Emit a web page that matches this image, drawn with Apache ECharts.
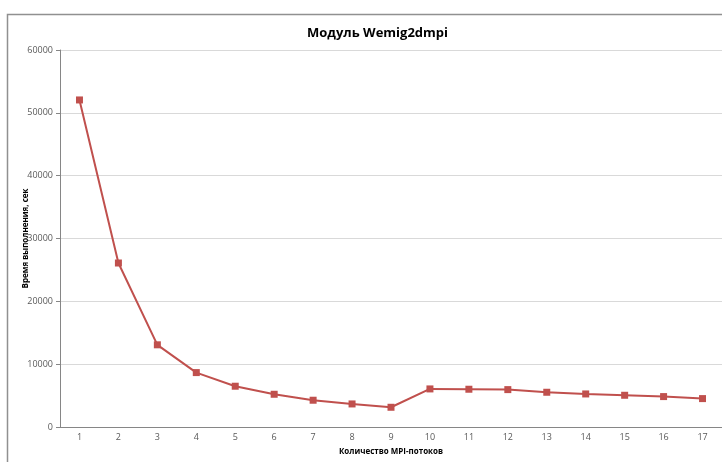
<!DOCTYPE html>
<html>
<head>
<meta charset="utf-8">
<script src="https://cdn.jsdelivr.net/npm/echarts@6/dist/echarts.min.js"></script>
<style>
html,body{margin:0;padding:0;background:#fff;overflow:hidden;}
#chart{position:absolute;left:0;top:0;width:722px;height:462px;}
</style>
</head>
<body>
<div id="chart"></div>
<script>
const categories = ['1','2','3','4','5','6','7','8','9','10','11','12','13','14','15','16','17'];
const timeValues = [52050, 26100, 13080, 8660, 6490, 5210, 4260, 3670, 3140, 6060, 6010, 5950, 5530, 5260, 5050, 4840, 4520];
const yTicks = {min: 0, max: 60000, interval: 10000};

const chart = echarts.init(document.getElementById('chart'), null, {renderer: 'canvas'});
const labelFont = {fontFamily: 'Open Sans', fontSize: 9, color: '#595959'};
chart.setOption({
  backgroundColor: '#fff',
  animation: false,
  graphic: [{
    type: 'polyline',
    silent: true,
    z: -10,
    shape: {points: [[7.5, 470], [7.5, 14.5], [722, 14.5]]},
    style: {stroke: '#909090', lineWidth: 1.5, fill: null}
  }],
  title: {
    text: 'Модуль Wemig2dmpi',
    left: 302,
    top: 22,
    textStyle: {fontFamily: 'Open Sans', fontSize: 13, fontWeight: 'bold', color: '#000'}
  },
  grid: {left: 60, top: 50, right: 0, height: 377, containLabel: false, outerBoundsMode: 'none', show: false},
  xAxis: {
    type: 'category',
    data: categories,
    boundaryGap: true,
    name: 'Количество MPI-потоков',
    nameLocation: 'middle',
    nameGap: 21,
    nameMoveOverlap: false,
    nameTextStyle: {fontFamily: 'Open Sans', fontSize: 8, fontWeight: 'bold', color: '#000'},
    axisLine: {show: true, lineStyle: {color: '#868686', width: 1}},
    axisTick: {show: false},
    axisLabel: Object.assign({margin: 6}, labelFont),
    splitLine: {show: false}
  },
  yAxis: {
    type: 'value',
    min: yTicks.min,
    max: yTicks.max,
    interval: yTicks.interval,
    name: 'Время выполнения, сек',
    nameLocation: 'middle',
    nameGap: 30,
    nameRotate: 90,
    nameMoveOverlap: false,
    nameTextStyle: {fontFamily: 'Open Sans', fontSize: 8, fontWeight: 'bold', color: '#000'},
    axisLine: {show: true, lineStyle: {color: '#868686', width: 1}},
    axisTick: {show: true, length: 4, lineStyle: {color: '#868686'}},
    axisLabel: Object.assign({margin: 7, formatter: v => String(v)}, labelFont),
    splitLine: {show: true, lineStyle: {color: '#d9d9d9', width: 1}}
  },
  series: [{
    type: 'line',
    data: timeValues,
    symbol: 'rect',
    symbolSize: 7,
    lineStyle: {color: '#c0504d', width: 2},
    itemStyle: {color: '#c0504d'}
  }]
});
</script>
</body>
</html>
